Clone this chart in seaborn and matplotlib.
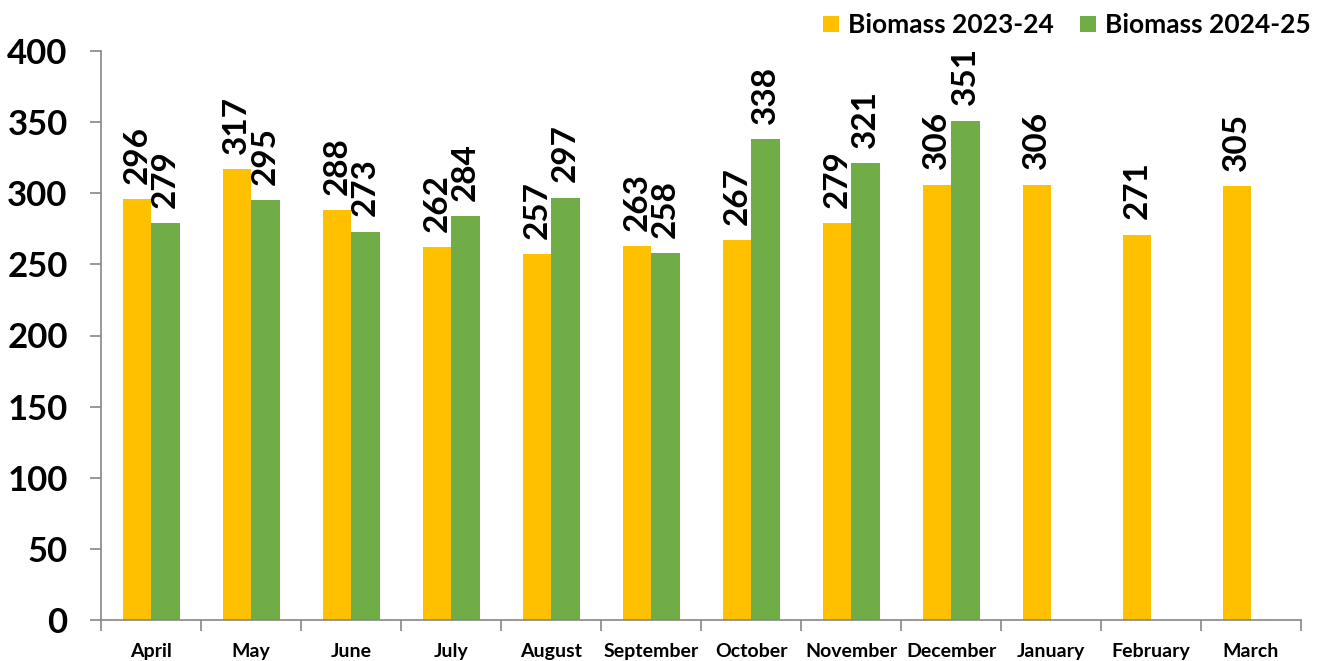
import numpy as np
import pandas as pd
import matplotlib
matplotlib.use("Agg")
import matplotlib.pyplot as plt
import seaborn as sns
from matplotlib.patches import Patch

# values
months = ['April', 'May', 'June', 'July', 'August', 'September', 'October',
          'November', 'December', 'January', 'February', 'March']
biomass_2023_24 = [296, 317, 288, 262, 257, 263, 267, 279, 306, 306, 271, 305]
biomass_2024_25 = [279, 295, 273, 284, 297, 258, 338, 321, 351, np.nan, np.nan, np.nan]
series_names = ['Biomass 2023-24', 'Biomass 2024-25']
colors = ['#FFC000', '#70AD47']

df = pd.DataFrame({
    'month': months * 2,
    'value': biomass_2023_24 + biomass_2024_25,
    'series': [series_names[0]] * 12 + [series_names[1]] * 12,
})

sns.set_style('white')
plt.rcParams['font.family'] = ['Lato', 'DejaVu Sans']
plt.rcParams['font.weight'] = 'bold'
plt.rcParams['text.color'] = 'black'
plt.rcParams['xtick.labelcolor'] = 'black'
plt.rcParams['ytick.labelcolor'] = 'black'

fig = plt.figure(figsize=(13.39, 6.61), dpi=100)
ax = fig.add_axes([101 / 1339, 41 / 661, 1200 / 1339, 569 / 661])

sns.barplot(data=df, x='month', y='value', hue='series', order=months,
            hue_order=series_names, palette=colors, width=0.57, gap=0,
            saturation=1, linewidth=0, legend=False, ax=ax)

# value labels, rotated, no label where a month has no data yet
for c in ax.containers:
    labels = ['' if np.isnan(v) else f'{v:.0f}' for v in c.datavalues]
    ax.bar_label(c, labels=labels, rotation=90, padding=11,
                 fontsize=24, fontweight='bold', color='black')

ax.set_xlim(-0.5, 11.5)
ax.set_ylim(0, 400)
ax.set_yticks(range(0, 401, 50))
ax.set_xlabel('')
ax.set_ylabel('')

for s in ['top', 'right']:
    ax.spines[s].set_visible(False)
for s in ['left', 'bottom']:
    ax.spines[s].set_color('#868686')
    ax.spines[s].set_linewidth(1.2)

ax.tick_params(axis='y', which='major', left=True, length=8, width=1.2,
               color='#868686', labelsize=25, pad=16, labelcolor='black')
# tick marks sit between the month groups
ax.set_xticks(np.arange(-0.5, 12, 1), minor=True)
ax.tick_params(axis='x', which='major', bottom=False, labelsize=14, pad=13,
               labelcolor='black')
ax.tick_params(axis='x', which='minor', bottom=True, length=8, width=1.2,
               color='#868686')
for lab in ax.get_xticklabels() + ax.get_yticklabels():
    lab.set_fontweight('bold')

handles = [Patch(facecolor=col, edgecolor='none') for col in colors]
fig.legend(handles, series_names, loc='upper right', ncol=2, frameon=False,
           bbox_to_anchor=(1324 / 1339, 1.0),
           handlelength=0.6, handleheight=0.6, handletextpad=0.35,
           columnspacing=1.0, borderaxespad=0.1, labelcolor='black',
           prop={'weight': 'bold', 'size': 19})

fig.savefig('out.png', dpi=100)
